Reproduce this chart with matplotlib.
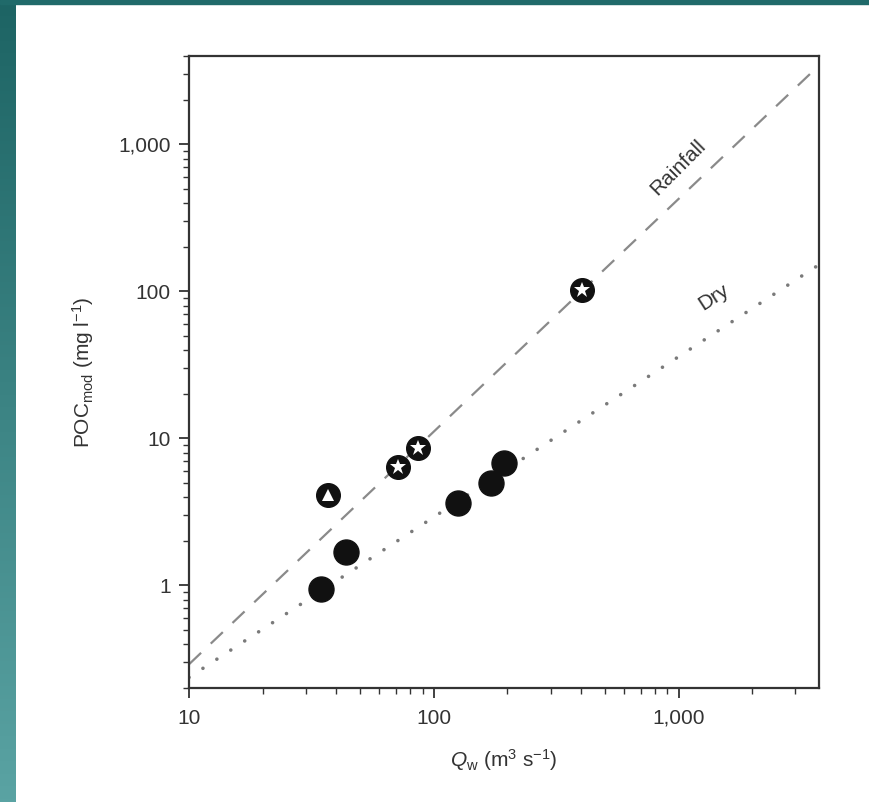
import matplotlib
matplotlib.use('Agg')
import matplotlib.pyplot as plt
import numpy as np
from matplotlib.ticker import LogLocator, FuncFormatter, NullFormatter
from matplotlib.patches import Rectangle
from matplotlib.colors import LinearSegmentedColormap

# font setup (narrow Helvetica look, falls back to Liberation Sans)
plt.rcParams['font.family'] = ['Liberation Sans Narrow', 'Liberation Sans', 'DejaVu Sans']
plt.rcParams['mathtext.fontset'] = 'custom'
plt.rcParams['mathtext.rm'] = 'Liberation Sans'
plt.rcParams['mathtext.it'] = 'Liberation Sans:italic'

# dry season samples (black dots)
dry_q = [34.7, 43.9, 126, 172, 194]
dry_poc = [0.94, 1.68, 3.62, 4.96, 6.79]

# rainfall samples (stars) and the triangle sample
rain_q = [71.6, 86.4, 405]
rain_poc = [6.37, 8.59, 102.5]
tri_q = [37.0]
tri_poc = [4.11]

# regression lines (end points)
rain_line_q = [10, 3750]
rain_line_poc = [0.29, 3450]
dry_line_q = [10, 3750]
dry_line_poc = [0.236, 152]

x_ticks = [10, 100, 1000]
y_ticks = [1, 10, 100, 1000]

fig = plt.figure(figsize=(8.7, 8.02), dpi=100)
fig.patch.set_facecolor('white')

# teal slide border: left gradient strip + top band
strip = fig.add_axes([0, 0, 16 / 870, 1])
grad = np.linspace(0, 1, 256).reshape(-1, 1)
teal = LinearSegmentedColormap.from_list('teal', ['#1d6464', '#5aa3a3'])
strip.imshow(grad, aspect='auto', cmap=teal, extent=[0, 1, 0, 1], origin='upper')
strip.set_axis_off()
fig.add_artist(Rectangle((0, 1 - 4 / 802), 1, 4 / 802, transform=fig.transFigure,
                         color='#206a6a', zorder=5))

ax = fig.add_axes([189 / 870, 1 - 688 / 802, 630 / 870, 632 / 802])
ax.set_xscale('log')
ax.set_yscale('log')
ax.set_xlim(10, 3750)
ax.set_ylim(0.2, 4000)

# lines
ax.plot(rain_line_q, rain_line_poc, color='#8a8a8a', lw=1.6, dashes=(7.5, 6), zorder=1)
ax.plot(dry_line_q, dry_line_poc, color='#7a7a7a', lw=2.6, linestyle=(0, (0.01, 4.6)),
        dash_capstyle='round', zorder=1)

# points
ax.plot(dry_q, dry_poc, 'o', color='#111111', ms=18, mec='#111111', zorder=3)
ax.plot(rain_q, rain_poc, 'o', color='#111111', ms=17, zorder=3)
ax.plot(rain_q, rain_poc, '*', color='white', ms=12, mew=0, zorder=4)
ax.plot(tri_q, tri_poc, 'o', color='#111111', ms=17, zorder=3)
ax.plot(tri_q, tri_poc, '^', color='white', ms=8, mew=0, zorder=4)

# line labels
ax.text(1000, 697, 'Rainfall', rotation=45, fontsize=15, color='#333333',
        ha='center', va='center', rotation_mode='anchor')
ax.text(1390, 92, 'Dry', rotation=33, fontsize=15, color='#333333',
        ha='center', va='center', rotation_mode='anchor')

# ticks
fmt = FuncFormatter(lambda v, p: f'{v:,.0f}')
ax.xaxis.set_minor_locator(LogLocator(base=10, subs=np.arange(2, 10), numticks=10))
ax.yaxis.set_minor_locator(LogLocator(base=10, subs=np.arange(2, 10), numticks=10))
ax.set_xticks(x_ticks)
ax.set_yticks(y_ticks)
ax.xaxis.set_major_formatter(fmt)
ax.yaxis.set_major_formatter(fmt)
ax.xaxis.set_minor_formatter(NullFormatter())
ax.yaxis.set_minor_formatter(NullFormatter())
ax.tick_params(which='major', direction='out', length=7, width=1.3, color='#333333',
               labelsize=15, labelcolor='#333333')
ax.tick_params(axis='x', which='major', pad=8)
ax.tick_params(axis='y', which='major', pad=6)
ax.tick_params(which='minor', direction='out', length=4, width=1.0, color='#333333')

for s in ax.spines.values():
    s.set_color('#333333')
    s.set_linewidth(1.6)

ax.set_xlabel(r'$Q_{\mathrm{w}}$ (m$^{3}$ s$^{-1}$)', fontsize=15, color='#333333', labelpad=14)
ax.set_ylabel(r'POC$_{\mathrm{mod}}$ (mg l$^{-1}$)', fontsize=15, color='#333333', labelpad=16)

fig.savefig('out.png', dpi=100)
